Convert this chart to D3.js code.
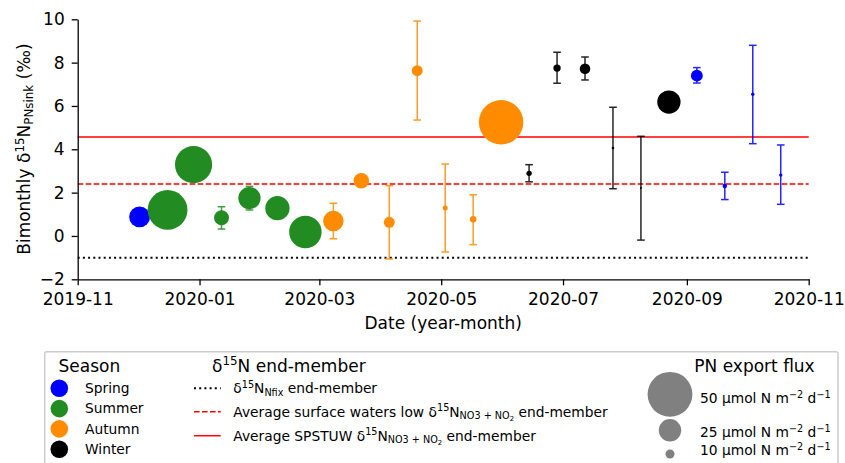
<!DOCTYPE html>
<html lang="en">
<head>
    <meta charset="UTF-8">
    <title>Bimonthly d15N PN sink</title>
    <script src="https://d3js.org/d3.v7.min.js"></script>
    <style>
        body {
            margin: 0;
            padding: 0;
            background: #fff;
        }

        svg text {
            font-family: "DejaVu Sans", sans-serif;
            white-space: pre;
        }
    </style>
</head>
<body>
    <div id="chart"></div>

    <script>
        // Data
        const dates = ["2019-12-02", "2019-12-16", "2019-12-29", "2020-01-12", "2020-01-26", "2020-02-09",
            "2020-02-23", "2020-03-08", "2020-03-22", "2020-04-05", "2020-04-19", "2020-05-03",
            "2020-05-17", "2020-05-31", "2020-06-14", "2020-06-28", "2020-07-12", "2020-07-26",
            "2020-08-09", "2020-08-23", "2020-09-06", "2020-09-20", "2020-10-04", "2020-10-18"];
        const seasonOf = ["Spring", "Summer", "Summer", "Summer", "Summer", "Summer",
            "Summer", "Autumn", "Autumn", "Autumn", "Autumn", "Autumn",
            "Autumn", "Autumn", "Winter", "Winter", "Winter", "Winter",
            "Winter", "Winter", "Spring", "Spring", "Spring", "Spring"];
        const d15N = [0.88, 1.20, 3.29, 0.84, 1.75, 1.28, 0.18, 0.69, 2.55, 0.63, 7.63, 1.29,
            0.77, 5.25, 2.89, 7.75, 7.72, 4.06, 2.21, 6.18, 7.40, 2.31, 6.54, 2.81];
        const errLow = [null, null, null, 0.32, 1.20, null, null, -0.13, null, -1.06, 5.35, -0.74,
            -0.40, null, 2.50, 7.05, 7.20, 2.18, -0.19, null, 7.06, 1.68, 4.26, 1.46];
        const errHigh = [null, null, null, 1.35, 2.29, null, null, 1.51, null, 2.32, 9.92, 3.32,
            1.90, null, 3.29, 8.48, 8.26, 5.94, 4.60, null, 7.77, 2.94, 8.80, 4.20];
        const pnFlux = [23.3, 44.4, 41.5, 16.7, 24.9, 27.1, 36.2, 22.9, 17.3, 12.2, 12.2, 5.6,
            7.3, 49.6, 6.0, 8.2, 11.8, 2.9, 2.2, 26.0, 13.3, 5.1, 3.8, 3.8];

        const seasons = ["Spring", "Summer", "Autumn", "Winter"];
        const seasonColors = ["#0000ff", "#228b22", "#ff8c00", "#000000"];

        const endMemberNames = ["nfix", "low", "spstuw"];
        const endMemberValues = [-1.0, 2.4, 4.57];

        const fluxLegend = [50, 25, 10];
        const xTickLabels = ["2019-11", "2020-01", "2020-03", "2020-05", "2020-07", "2020-09", "2020-11"];
        const yTicks = [-2, 0, 2, 4, 6, 8, 10];

        // Layout
        const W = 845, H = 463;
        const plot = { left: 77.7, right: 808.7, top: 19.3, bottom: 279.3 };
        const tickFont = 17;

        const svg = d3.select("#chart").append("svg")
            .attr("width", W)
            .attr("height", H);

        const parseDay = d3.timeParse("%Y-%m-%d");
        const parseMonth = d3.timeParse("%Y-%m");

        const x = d3.scaleTime()
            .domain([parseMonth("2019-11"), parseMonth("2020-11")])
            .range([plot.left, plot.right]);

        const y = d3.scaleLinear()
            .domain([-2, 10])
            .range([plot.bottom, plot.top]);

        const r = d3.scaleLinear()
            .domain([0, 50])
            .range([0, 22.4]);

        const color = d3.scaleOrdinal()
            .domain(seasons)
            .range(seasonColors);

        const points = dates.map((d, i) => ({
            date: parseDay(d),
            season: seasonOf[i],
            value: d15N[i],
            lo: errLow[i],
            hi: errHigh[i],
            flux: pnFlux[i]
        }));

        // writes text with super/subscript pieces: [string, kind]
        function richText(sel, parts, base) {
            let cur = 0;
            parts.forEach(([str, kind]) => {
                let off = 0, fs = base;
                if (kind === "sup") { off = -0.38 * base; fs = 0.7 * base; }
                if (kind === "sub") { off = 0.2 * base; fs = 0.7 * base; }
                if (kind === "subsub") { off = 0.34 * base; fs = 0.5 * base; }
                sel.append("tspan")
                    .attr("dy", off - cur)
                    .attr("font-size", fs)
                    .text(str);
                cur = off;
            });
        }

        // Reference lines
        const lineStyles = {
            nfix: { stroke: "#000", width: 2, dash: "2,3.2" },
            low: { stroke: "#ff0000", width: 1.5, dash: "5.6,2.4" },
            spstuw: { stroke: "#ff0000", width: 1.5, dash: null }
        };

        endMemberNames.forEach((name, i) => {
            const st = lineStyles[name];
            svg.append("line")
                .attr("x1", plot.left)
                .attr("x2", plot.right)
                .attr("y1", y(endMemberValues[i]))
                .attr("y2", y(endMemberValues[i]))
                .attr("stroke", st.stroke)
                .attr("stroke-width", st.width)
                .attr("stroke-dasharray", st.dash);
        });

        // Error bars
        const withErr = points.filter(d => d.lo !== null);
        const errG = svg.append("g").attr("opacity", 0.85);

        errG.selectAll(".err")
            .data(withErr)
            .enter().append("line")
            .attr("x1", d => x(d.date))
            .attr("x2", d => x(d.date))
            .attr("y1", d => y(d.lo))
            .attr("y2", d => y(d.hi))
            .attr("stroke", d => color(d.season))
            .attr("stroke-width", 1.5);

        ["lo", "hi"].forEach(k => {
            errG.selectAll(".cap-" + k)
                .data(withErr)
                .enter().append("line")
                .attr("x1", d => x(d.date) - 3.8)
                .attr("x2", d => x(d.date) + 3.8)
                .attr("y1", d => y(d[k]))
                .attr("y2", d => y(d[k]))
                .attr("stroke", d => color(d.season))
                .attr("stroke-width", 1.5);
        });

        // Markers
        svg.append("g").selectAll("circle")
            .data(points)
            .enter().append("circle")
            .attr("cx", d => x(d.date))
            .attr("cy", d => y(d.value))
            .attr("r", d => r(d.flux))
            .attr("fill", d => color(d.season));

        // Axes
        const xAxis = svg.append("g")
            .attr("transform", `translate(0,${plot.bottom})`)
            .call(d3.axisBottom(x)
                .tickValues(xTickLabels.map(parseMonth))
                .tickFormat(d3.timeFormat("%Y-%m"))
                .tickSize(6)
                .tickSizeOuter(0)
                .tickPadding(8));

        const yAxis = svg.append("g")
            .attr("transform", `translate(${plot.left},0)`)
            .call(d3.axisLeft(y)
                .tickValues(yTicks)
                .tickSize(6)
                .tickSizeOuter(0)
                .tickPadding(7));

        [xAxis, yAxis].forEach(a => {
            a.selectAll("path, line").attr("stroke", "#000").attr("stroke-width", 1.3);
            a.selectAll("text")
                .attr("fill", "#000")
                .attr("font-size", tickFont)
                .attr("font-family", "DejaVu Sans");
        });

        svg.append("text")
            .attr("x", (plot.left + plot.right) / 2)
            .attr("y", 329)
            .attr("text-anchor", "middle")
            .attr("font-size", tickFont)
            .text("Date (year-month)");

        const yLabel = svg.append("text")
            .attr("transform", "translate(30,149) rotate(-90)")
            .attr("text-anchor", "middle")
            .attr("font-size", tickFont);
        richText(yLabel, [["Bimonthly δ"], ["15", "sup"], ["N"], ["PNsink", "sub"], [" (‰)"]], tickFont);

        // Legend
        const legend = svg.append("g");
        const labelFont = 13.8, titleFont = 17;

        legend.append("rect")
            .attr("x", 44.7)
            .attr("y", 351.7)
            .attr("width", 793.3)
            .attr("height", 130)
            .attr("rx", 2)
            .attr("fill", "#fff")
            .attr("stroke", "#cccccc")
            .attr("stroke-width", 1.5);

        // season column
        legend.append("text")
            .attr("x", 58.5)
            .attr("y", 371.5)
            .attr("font-size", titleFont)
            .text("Season");

        seasons.forEach((s, i) => {
            const cy = 388.3 + i * 20.3;
            legend.append("circle")
                .attr("cx", 59.3)
                .attr("cy", cy)
                .attr("r", 8.8)
                .attr("fill", color(s));
            legend.append("text")
                .attr("x", 85)
                .attr("y", cy + 4.8)
                .attr("font-size", labelFont)
                .text(s);
        });

        // end-member column
        const emTitle = legend.append("text")
            .attr("x", 212)
            .attr("y", 371.5)
            .attr("font-size", titleFont);
        richText(emTitle, [["δ"], ["15", "sup"], ["N end-member"]], titleFont);

        const emLabels = [
            [["δ"], ["15", "sup"], ["N"], ["Nfix", "sub"], [" end-member"]],
            [["Average surface waters low δ"], ["15", "sup"], ["N"], ["NO3 + NO", "sub"], ["2", "subsub"], [" end-member"]],
            [["Average SPSTUW δ"], ["15", "sup"], ["N"], ["NO3 + NO", "sub"], ["2", "subsub"], [" end-member"]]
        ];
        const emY = [388.3, 411.7, 435.7];

        endMemberNames.forEach((name, i) => {
            const st = lineStyles[name];
            legend.append("line")
                .attr("x1", 194)
                .attr("x2", 220.7)
                .attr("y1", emY[i])
                .attr("y2", emY[i])
                .attr("stroke", st.stroke)
                .attr("stroke-width", st.width)
                .attr("stroke-dasharray", st.dash);
            const t = legend.append("text")
                .attr("x", 233.3)
                .attr("y", emY[i] + 4.8)
                .attr("font-size", labelFont);
            richText(t, emLabels[i], labelFont);
        });

        // flux column
        legend.append("text")
            .attr("x", 694.3)
            .attr("y", 371.5)
            .attr("font-size", titleFont)
            .text("PN export flux");

        const fluxY = [394.3, 430.3, 454];
        const fluxTextY = [398.3, 432.3, 450];

        fluxLegend.forEach((f, i) => {
            legend.append("circle")
                .attr("cx", 670)
                .attr("cy", fluxY[i])
                .attr("r", r(f))
                .attr("fill", "#808080");
            const t = legend.append("text")
                .attr("x", 700)
                .attr("y", fluxTextY[i] + 4.8)
                .attr("font-size", labelFont);
            richText(t, [[f + " μmol N m"], ["−2", "sup"], [" d"], ["−1", "sup"]], labelFont);
        });
    </script>
</body>
</html>
